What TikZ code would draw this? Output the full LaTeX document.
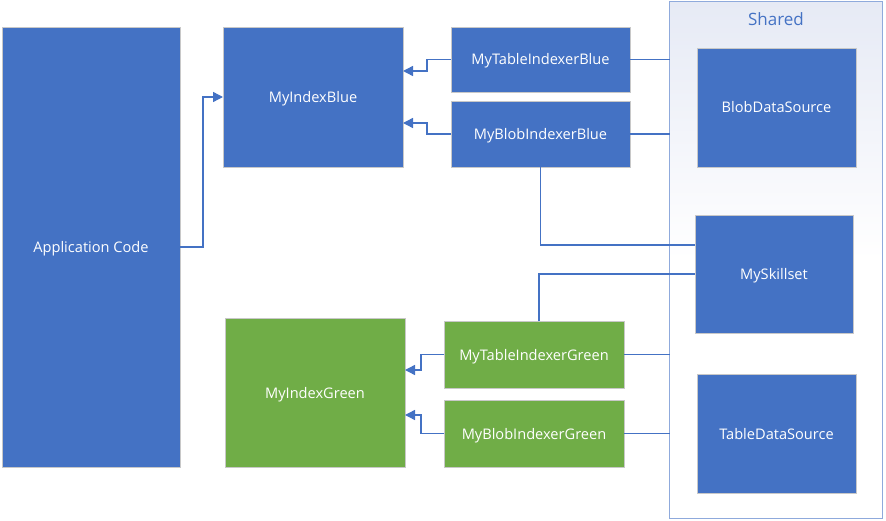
\documentclass[tikz,border=0pt]{standalone}
\usepackage{fontspec}
\setmainfont{Open Sans}
\usetikzlibrary{arrows.meta}
\definecolor{cblue}{HTML}{4472C4}
\definecolor{cgreen}{HTML}{70AD47}
\definecolor{cedge}{HTML}{C8C8C8}
\definecolor{cframe}{HTML}{8FAADC}
\definecolor{cshade}{HTML}{E6EAF5}
\begin{document}
\begin{tikzpicture}[x=1pt,y=-1pt,
  boxbase/.style={draw=cedge,line width=0.8pt,inner sep=0pt,outer sep=0pt,text=white,
    font=\fontsize{14.6}{17}\selectfont,align=center,text height=14pt,text depth=3pt},
  bluebox/.style={boxbase,fill=cblue},
  greenbox/.style={boxbase,fill=cgreen},
  conn/.style={draw=cblue,line width=1.4pt},
  arr/.style={conn,-{Triangle[length=10pt,width=10pt]}}]
\useasboundingbox (0,0) rectangle (886,521);
% Shared container
\node[draw=cframe,line width=1pt,top color=cshade,bottom color=white,middle color=white,
  minimum width=213pt,minimum height=517pt,inner sep=0pt,outer sep=0pt] (shared) at (776,260) {};
\node[text=cblue,font=\fontsize{17}{20}\selectfont] (sharedlbl) at (776,19) {Shared};
% boxes
\node[bluebox,minimum width=178pt,minimum height=440pt] (app) at (91,247) {Application Code};
\node[bluebox,minimum width=180pt,minimum height=140pt] (idxblue) at (313,97) {MyIndexBlue};
\node[bluebox,minimum width=179pt,minimum height=65pt] (tib) at (540.5,59.5) {MyTableIndexerBlue};
\node[bluebox,minimum width=179pt,minimum height=66pt] (bib) at (540.5,134) {MyBlobIndexerBlue};
\node[bluebox,minimum width=159pt,minimum height=119pt] (blob) at (776.5,107.5) {BlobDataSource};
\node[bluebox,minimum width=158pt,minimum height=118pt] (skill) at (774,274) {MySkillset};
\node[bluebox,minimum width=159pt,minimum height=119pt] (tds) at (776.5,433.5) {TableDataSource};
\node[greenbox,minimum width=180pt,minimum height=149pt] (idxgreen) at (315,392.5) {MyIndexGreen};
\node[greenbox,minimum width=180pt,minimum height=67pt] (tig) at (534,354.5) {MyTableIndexerGreen};
\node[greenbox,minimum width=180pt,minimum height=67pt] (big) at (534,433.5) {MyBlobIndexerGreen};
% connectors
\draw[arr] (app.east) -- ++(23,0) |- (idxblue.west);
\draw[arr] (tib.west) -- ++(-24,0) |- ([yshift=26pt]idxblue.east);
\draw[arr] (bib.west) -- ++(-24,0) |- ([yshift=-26pt]idxblue.east);
\draw[arr] (tig.west) -- ++(-23,0) |- ([yshift=22.5pt]idxgreen.east);
\draw[arr] (big.west) -- ++(-23,0) |- ([yshift=-22.5pt]idxgreen.east);
\draw[conn] (tib.east) -- (tib.east -| shared.west);
\draw[conn] (bib.east) -- (bib.east -| shared.west);
\draw[conn] (tig.east) -- (tig.east -| shared.west);
\draw[conn] (big.east) -- (big.east -| shared.west);
\draw[conn] (bib.south) |- ([yshift=29pt]skill.west);
\draw[conn] ([xshift=5pt]tig.north) |- (skill.west);
\end{tikzpicture}
\end{document}
